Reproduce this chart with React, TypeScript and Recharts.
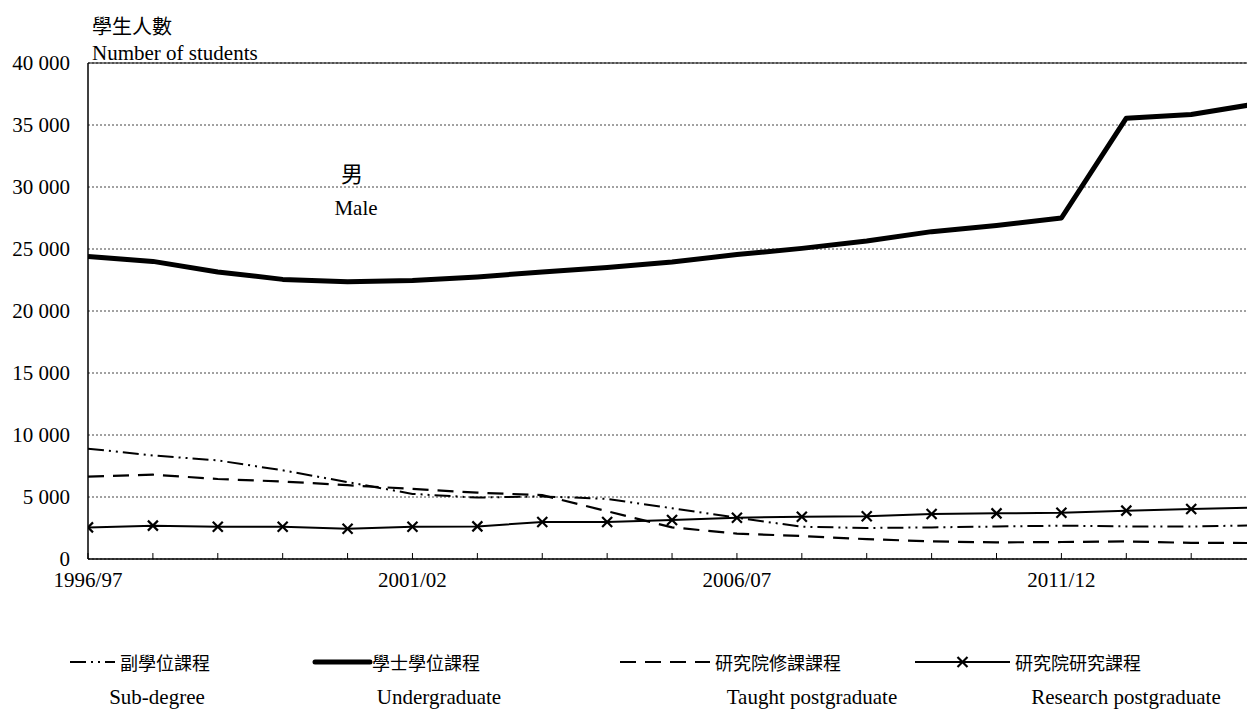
import { CartesianGrid, Line, LineChart, ReferenceLine, XAxis, YAxis } from 'recharts'

const years = [
  '1996/97', '1997/98', '1998/99', '1999/00', '2000/01', '2001/02', '2002/03', '2003/04', '2004/05', '2005/06',
  '2006/07', '2007/08', '2008/09', '2009/10', '2010/11', '2011/12', '2012/13', '2013/14', '2014/15',
]
const subDegree = [8900, 8350, 7950, 7150, 6200, 5250, 4950, 5050, 4850, 4100, 3330, 2600, 2500, 2550, 2620, 2690, 2630, 2620, 2720]
const undergraduate = [24400, 24000, 23150, 22550, 22350, 22450, 22750, 23150, 23500, 23950, 24550, 25050, 25650, 26400, 26900, 27500, 35550, 35850, 36700]
const taughtPg = [6650, 6800, 6450, 6250, 5950, 5650, 5350, 5150, 3850, 2550, 2050, 1850, 1600, 1420, 1340, 1370, 1420, 1300, 1290]
const researchPg = [2550, 2690, 2600, 2600, 2440, 2600, 2630, 2980, 2980, 3140, 3330, 3410, 3440, 3630, 3680, 3730, 3900, 4030, 4160]
const yTicks = [0, 5000, 10000, 15000, 20000, 25000, 30000, 35000, 40000]
const labelledYears = ['1996/97', '2001/02', '2006/07', '2011/12']

const data = years.map((y, i) => ({
  i,
  year: y,
  sub: subDegree[i],
  ug: undergraduate[i],
  tp: taughtPg[i],
  rp: researchPg[i],
}))

const FONT = '"Liberation Serif", "Noto Sans CJK TC", serif'
const CJK = '"Noto Sans CJK TC", sans-serif'
const AXIS_Y = 559
const SUB_DASH = '16 5 2 5 2 5'
const TP_DASH = '16 9'

const fmt = (v: number) => (v >= 1000 ? `${Math.floor(v / 1000)} ${String(v % 1000).padStart(3, '0')}` : String(v))

const XTick = (props: any) => {
  const { x, payload } = props
  const label = years[payload.value]
  const show = labelledYears.includes(label)
  return (
    <g>
      <line x1={x} x2={x} y1={AXIS_Y - 6} y2={AXIS_Y} stroke="#000" strokeWidth={1} />
      {show && (
        <text x={x} y={AXIS_Y + 28} textAnchor="middle" fontFamily={FONT} fontSize={21} fill="#000">
          {label}
        </text>
      )}
    </g>
  )
}

const Cross = (props: any) => {
  const { cx, cy } = props
  if (cx == null || cy == null) return <g />
  const s = 5
  return (
    <g stroke="#000" strokeWidth={2.2}>
      <line x1={cx - s} y1={cy - s} x2={cx + s} y2={cy + s} />
      <line x1={cx - s} y1={cy + s} x2={cx + s} y2={cy - s} />
    </g>
  )
}

const legendItems = [
  { zh: '副學位課程', en: 'Sub-degree', x1: 70, x2: 115, zhX: 120, enX: 157, dash: SUB_DASH, w: 2, cross: false },
  { zh: '學士學位課程', en: 'Undergraduate', x1: 315, x2: 370, zhX: 372, enX: 439, dash: undefined, w: 5, cross: false },
  { zh: '研究院修課課程', en: 'Taught postgraduate', x1: 620, x2: 710, zhX: 715, enX: 812, dash: TP_DASH, w: 2, cross: false },
  { zh: '研究院研究課程', en: 'Research postgraduate', x1: 915, x2: 1010, zhX: 1015, enX: 1126, dash: undefined, w: 2, cross: true },
]

export default function App() {
  return (
    <div style={{ position: 'absolute', left: 0, top: 0, width: 1247, height: 711, background: '#fff', fontFamily: FONT }}>
      <LineChart width={1247} height={711} data={data} margin={{ top: 63, right: 0, left: 0, bottom: 122 }}>
        <CartesianGrid vertical={false} stroke="#444" strokeDasharray="2 2" />
        <XAxis
          dataKey="i"
          type="number"
          domain={[0, 17.86]}
          allowDataOverflow
          ticks={years.slice(0, 18).map((_, i) => i)}
          interval={0}
          tickLine={false}
          tickSize={0}
          tickMargin={0}
          height={30}
          axisLine={{ stroke: '#000', strokeWidth: 1.5 }}
          tick={<XTick />}
        />
        <YAxis
          domain={[0, 40000]}
          ticks={yTicks}
          width={88}
          tickLine={false}
          tickSize={0}
          tickMargin={18}
          axisLine={{ stroke: '#000', strokeWidth: 1.5 }}
          tickFormatter={fmt}
          tick={{ fontFamily: FONT, fontSize: 21, fill: '#000' }}
        />
        <ReferenceLine y={40000} stroke="#000" strokeWidth={1} />
        <Line type="linear" dataKey="sub" stroke="#000" strokeWidth={2} strokeDasharray={SUB_DASH} dot={false} isAnimationActive={false} />
        <Line type="linear" dataKey="tp" stroke="#000" strokeWidth={2.2} strokeDasharray={TP_DASH} dot={false} isAnimationActive={false} />
        <Line type="linear" dataKey="rp" stroke="#000" strokeWidth={2} dot={<Cross />} isAnimationActive={false} />
        <Line type="linear" dataKey="ug" stroke="#000" strokeWidth={5} strokeLinejoin="round" dot={false} isAnimationActive={false} />
      </LineChart>

      <div style={{ position: 'absolute', left: 92, top: 14, fontFamily: CJK, fontSize: 20, lineHeight: '24px' }}>學生人數</div>
      <div style={{ position: 'absolute', left: 92, top: 41, fontSize: 21, lineHeight: '24px' }}>Number of students</div>

      <div style={{ position: 'absolute', left: 302, width: 100, top: 158, textAlign: 'center', fontFamily: CJK, fontSize: 22, lineHeight: '28px' }}>男</div>
      <div style={{ position: 'absolute', left: 306, width: 100, top: 195, textAlign: 'center', fontSize: 21, lineHeight: '26px' }}>Male</div>

      {legendItems.map((it) => (
        <div key={it.en}>
          <svg style={{ position: 'absolute', left: 0, top: 650 }} width={1247} height={24}>
            <line x1={it.x1} x2={it.x2} y1={12} y2={12} stroke="#000" strokeWidth={it.w} strokeDasharray={it.dash} strokeLinecap={it.w > 3 ? 'round' : 'butt'} />
            {it.cross && <Cross cx={(it.x1 + it.x2) / 2} cy={12} />}
          </svg>
          <div style={{ position: 'absolute', left: it.zhX, top: 650, fontFamily: CJK, fontSize: 18, lineHeight: '24px' }}>{it.zh}</div>
          <div style={{ position: 'absolute', left: it.enX - 150, width: 300, top: 684, textAlign: 'center', fontSize: 21, lineHeight: '26px' }}>{it.en}</div>
        </div>
      ))}
    </div>
  )
}
